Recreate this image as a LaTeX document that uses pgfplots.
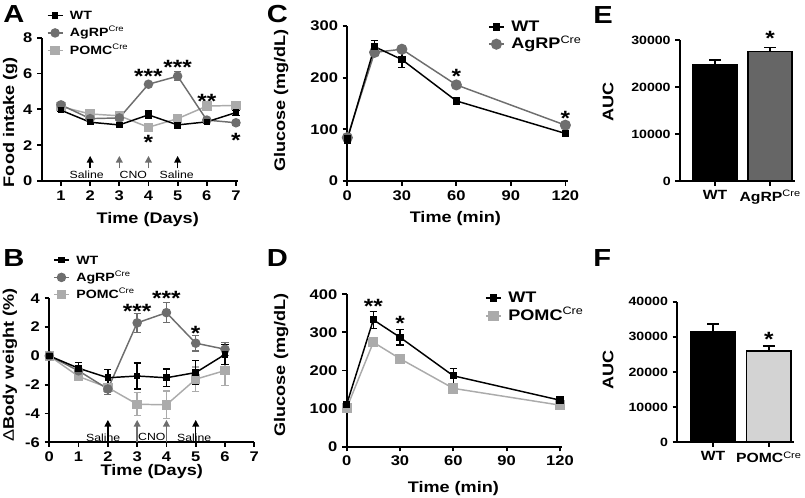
\documentclass[border=0pt]{standalone}
\usepackage{fontspec}
\setmainfont{Liberation Sans}[FakeStretch=1.18]
\usepackage{pgfplots}
\usepackage{pgfplotstable}
\pgfplotsset{compat=1.18}
\usetikzlibrary{arrows.meta}
\definecolor{agrp}{HTML}{6E6E6E}
\definecolor{pomc}{HTML}{ABABAB}
\definecolor{pomcbar}{HTML}{D3D3D3}
\definecolor{agrpbar}{HTML}{666666}

\pgfplotstableread{
d wt ewt ag eag po epo
1 3.95 0.08 4.25 0.10 4.15 0.08
2 3.28 0.10 3.48 0.10 3.74 0.08
3 3.13 0.08 3.52 0.12 3.64 0.08
4 3.69 0.22 5.40 0.12 3.00 0.18
5 3.13 0.18 5.85 0.25 3.48 0.10
6 3.30 0.08 3.40 0.10 4.18 0.08
7 3.82 0.15 3.25 0.12 4.22 0.08
}\dataA
\pgfplotstableread{
d wt ewt ag eag po epo
0 0 0 0 0 0 0
1 -0.86 0.40 -1.04 0.25 -1.43 0.15
2 -1.52 0.55 -2.30 0.40 -2.20 0.30
3 -1.40 0.90 2.29 0.65 -3.36 0.80
4 -1.52 0.60 3.00 0.70 -3.40 0.95
5 -1.16 0.85 0.88 0.55 -1.62 0.85
6 0.10 0.70 0.46 0.45 -1.02 1.05
}\dataB
\pgfplotstableread{
t wt ewt ag eag
0 81 8 84 5
15 260 12 249 6
30 235 15 255 5
60 155 6 186 5
120 92 4 108 4
}\dataC
\pgfplotstableread{
t wt ewt po epo
0 111 8 101 5
15 333 22 274 8
30 287 20 231 6
60 186 20 153 6
120 122 10 109 5
}\dataD

\tikzset{
  starl/.style={font=\bfseries\fontsize{15.5}{15.5}\selectfont, inner sep=0pt, anchor=center, yshift=-3.6pt},
  annl/.style={font=\fontsize{7.8}{8}\selectfont, inner sep=0pt},
  arrl/.style={-{Triangle[width=5pt,length=5pt]}, line width=1.1pt},
}
\pgfplotsset{
  panel/.style={
    scale only axis, anchor=south west, clip=false,
    axis x line=bottom, axis y line=left,
    axis line style={-, line width=1.5pt},
    tick align=outside, major tick length=3.5pt,
    every tick/.style={black, line width=1.3pt},
    tick label style={font=\bfseries\fontsize{10.5}{12}\selectfont},
    label style={font=\bfseries\fontsize{11.5}{13}\selectfont},
    /pgf/number format/assume math mode=true,
    /pgf/number format/1000 sep={},
    scaled y ticks=false,
    legend style={draw=none, fill=none, inner sep=0pt, anchor=north west,
      font=\bfseries\fontsize{9}{10}\selectfont,
      nodes={inner sep=0pt, text height=8.5pt, text depth=2.5pt},
      column sep=5pt, row sep=2pt, cells={anchor=west}},
    legend image code/.code={\draw[mark repeat=2,mark phase=2,##1] plot coordinates {(0pt,0pt) (5.6pt,0pt) (11.2pt,0pt)};},
    reverse legend,
  },
  wtl/.style={black, line width=1.1pt, mark=square*, mark size=1.9pt, mark options={solid}},
  agl/.style={agrp, line width=1.1pt, mark=*, mark size=3pt},
  pol/.style={pomc, line width=1.1pt, mark=square*, mark size=3pt},
  eb/.style={error bars/.cd, y dir=both, y explicit,
    error bar style={line width=1pt}, error mark=-, error mark options={rotate=90, line width=1pt, mark size=2.7pt}},
  ebar/.style={error bars/.cd, y dir=plus, y explicit,
    error bar style={line width=1.2pt}, error mark=-, error mark options={rotate=90, line width=1.2pt, mark size=4.5pt}},
}

\begin{document}
\begin{tikzpicture}
\path[use as bounding box] (0,0) rectangle (603.75pt,373.5pt);

% ---------- A ----------
\begin{axis}[panel, at={(31.3pt,237.75pt)}, width=147.2pt, height=107.5pt,
  xmin=0.34, xmax=7.07, ymin=0, ymax=8, xtick={1,...,7}, ytick={0,2,4,6,8},
  xlabel={Time (Days)}, ylabel={Food intake (g)},
  xlabel style={at={(axis description cs:0.54,-0.272)}, anchor=center},
  ylabel style={at={(axis description cs:-0.161,0.41)}, anchor=center},
  legend style={at={(axis description cs:0.025,1.207)}}]
\addplot[pol, eb] table[x=d, y=po, y error=epo] {\dataA};
\addlegendentry{POMC\textsuperscript{\mdseries Cre}}
\addplot[agl, eb] table[x=d, y=ag, y error=eag] {\dataA};
\addlegendentry{AgRP\textsuperscript{\mdseries Cre}}
\addplot[wtl, eb] table[x=d, y=wt, y error=ewt] {\dataA};
\addlegendentry{WT}
\node[starl] at (axis cs:4,6.1) {***};
\node[starl] at (axis cs:5,6.6) {***};
\node[starl] at (axis cs:6,4.7) {**};
\node[starl] at (axis cs:7,2.55) {*};
\node[starl] at (axis cs:4,2.4) {*};
\draw[arrl, black] (axis cs:2,0.7) -- (axis cs:2,1.4);
\draw[arrl, agrp] (axis cs:3,0.7) -- (axis cs:3,1.4);
\draw[arrl, agrp] (axis cs:4,0.7) -- (axis cs:4,1.4);
\draw[arrl, black] (axis cs:5,0.7) -- (axis cs:5,1.4);
\node[annl] at (axis cs:1.88,0.33) {Saline};
\node[annl] at (axis cs:3.48,0.33) {CNO};
\node[annl] at (axis cs:4.97,0.33) {Saline};
\end{axis}

% ---------- B ----------
\begin{axis}[panel, at={(36.98pt,41.8pt)}, width=153.75pt, height=108pt,
  xmin=0, xmax=7, ymin=-6, ymax=4, xtick={0,...,7}, ytick={-6,-4,...,4},
  xlabel={Time (Days)}, ylabel={{\mdseries\char"0394}Body weight (\%)},
  xlabel style={at={(axis description cs:0.5,-0.2)}, anchor=center},
  ylabel style={at={(axis description cs:-0.192,0.537)}, anchor=center},
  legend style={at={(axis description cs:0.018,1.318)}}]
\addplot[pol, eb] table[x=d, y=po, y error=epo] {\dataB};
\addlegendentry{POMC\textsuperscript{\mdseries Cre}}
\addplot[agl, eb] table[x=d, y=ag, y error=eag] {\dataB};
\addlegendentry{AgRP\textsuperscript{\mdseries Cre}}
\addplot[wtl, eb] table[x=d, y=wt, y error=ewt] {\dataB};
\addlegendentry{WT}
\node[starl] at (axis cs:3,3.43) {***};
\node[starl] at (axis cs:4,4.3) {***};
\node[starl] at (axis cs:5,1.92) {*};
\draw[arrl, black] (axis cs:2,-6) -- (axis cs:2,-4.45);
\draw[arrl, agrp] (axis cs:3,-6) -- (axis cs:3,-4.45);
\draw[arrl, agrp] (axis cs:4,-6) -- (axis cs:4,-4.45);
\draw[arrl, black] (axis cs:5,-6) -- (axis cs:5,-4.45);
\node[annl] at (axis cs:1.84,-5.66) {Saline};
\node[annl] at (axis cs:3.5,-5.66) {CNO};
\node[annl] at (axis cs:4.95,-5.66) {Saline};
\end{axis}

% ---------- C ----------
\begin{axis}[panel, at={(260.5pt,237.75pt)}, width=165.3pt, height=116.25pt,
  xmin=0, xmax=121.3, ymin=0, ymax=300, xtick={0,30,...,120}, ytick={0,100,200,300},
  xlabel={Time (min)}, ylabel={Glucose (mg/dL)},
  xlabel style={at={(axis description cs:0.49,-0.24)}, anchor=center},
  ylabel style={at={(axis description cs:-0.30,0.52)}, anchor=center},
  legend style={at={(axis description cs:0.638,1.052)}, font=\bfseries\fontsize{11.5}{13}\selectfont,
    nodes={text height=10pt, text depth=3pt}, row sep=0pt}]
\addplot[agl, mark size=3.6pt, eb] table[x=t, y=ag, y error=eag] {\dataC};
\addlegendentry{AgRP\textsuperscript{\mdseries Cre}}
\addplot[wtl, mark size=2.2pt, eb] table[x=t, y=wt, y error=ewt] {\dataC};
\addlegendentry{WT}
\node[starl] at (axis cs:60,212) {*};
\node[starl] at (axis cs:120,131) {*};
\end{axis}

% ---------- D ----------
\begin{axis}[panel, at={(260pt,38.5pt)}, width=161.3pt, height=114.3pt,
  xmin=0, xmax=121, ymin=0, ymax=400, xtick={0,30,...,120}, ytick={0,100,...,400},
  xlabel={Time (min)}, ylabel={Glucose (mg/dL)},
  xlabel style={at={(axis description cs:0.496,-0.273)}, anchor=center},
  ylabel style={at={(axis description cs:-0.305,0.536)}, anchor=center},
  legend style={at={(axis description cs:0.643,1.035)}, font=\bfseries\fontsize{11.5}{13}\selectfont,
    nodes={text height=10pt, text depth=3pt}, row sep=0.7pt}]
\addplot[pol, mark size=3.3pt, eb] table[x=t, y=po, y error=epo] {\dataD};
\addlegendentry{POMC\textsuperscript{\mdseries Cre}}
\addplot[wtl, mark size=2.2pt, eb] table[x=t, y=wt, y error=ewt] {\dataD};
\addlegendentry{WT}
\node[starl] at (axis cs:15,381) {**};
\node[starl] at (axis cs:30,337) {*};
\end{axis}

% ---------- E ----------
\begin{axis}[panel, at={(510pt,237.75pt)}, width=86.25pt, height=105.75pt,
  xmin=-0.636, xmax=1.45, ymin=0, ymax=30000, xtick={0,1}, ytick={0,10000,20000,30000},
  xticklabels={WT, AgRP\textsuperscript{\mdseries Cre}},
  tick label style={font=\bfseries\fontsize{9}{11}\selectfont},
  xticklabel style={font=\bfseries\fontsize{10}{11}\selectfont},
  ylabel={AUC},
  ylabel style={at={(axis description cs:-0.626,0.562)}, anchor=center}]
\addplot[ybar, bar width=0.8, bar shift=0pt, fill=black, draw=black, line width=1.2pt, ebar]
  coordinates {(0,24680) +- (0,1050)};
\addplot[ybar, bar width=0.8, bar shift=0pt, fill=agrpbar, draw=black, line width=1.2pt, ebar]
  coordinates {(1,27520) +- (0,900)};
\node[starl] at (axis cs:1,31400) {*};
\end{axis}

% ---------- F ----------
\begin{axis}[panel, at={(508pt,41.8pt)}, width=87.5pt, height=105.45pt,
  xmin=-0.64, xmax=1.45, ymin=0, ymax=40000, xtick={0,1}, ytick={0,10000,...,40000},
  xticklabels={WT, POMC\textsuperscript{\mdseries Cre}},
  tick label style={font=\bfseries\fontsize{9}{11}\selectfont},
  xticklabel style={font=\bfseries\fontsize{10}{11}\selectfont},
  ylabel={AUC},
  ylabel style={at={(axis description cs:-0.594,0.514)}, anchor=center}]
\addplot[ybar, bar width=0.8, bar shift=0pt, fill=black, draw=black, line width=1.2pt, ebar]
  coordinates {(0,31500) +- (0,2200)};
\addplot[ybar, bar width=0.8, bar shift=0pt, fill=pomcbar, draw=black, line width=1.2pt, ebar]
  coordinates {(1,26000) +- (0,1400)};
\node[starl] at (axis cs:1,30580) {*};
\end{axis}

% panel letters
\node[anchor=base west, inner sep=0pt, font=\bfseries\fontsize{18.5}{20}\selectfont] at (2.25pt,356.25pt) {A};
\node[anchor=base west, inner sep=0pt, font=\bfseries\fontsize{18.5}{20}\selectfont] at (2.25pt,173.5pt) {B};
\node[anchor=base west, inner sep=0pt, font=\bfseries\fontsize{18.5}{20}\selectfont] at (200pt,356.25pt) {C};
\node[anchor=base west, inner sep=0pt, font=\bfseries\fontsize{18.5}{20}\selectfont] at (200pt,173.5pt) {D};
\node[anchor=base west, inner sep=0pt, font=\bfseries\fontsize{18.5}{20}\selectfont] at (444.75pt,356pt) {E};
\node[anchor=base west, inner sep=0pt, font=\bfseries\fontsize{18.5}{20}\selectfont] at (444.75pt,173.5pt) {F};
\end{tikzpicture}
\end{document}
